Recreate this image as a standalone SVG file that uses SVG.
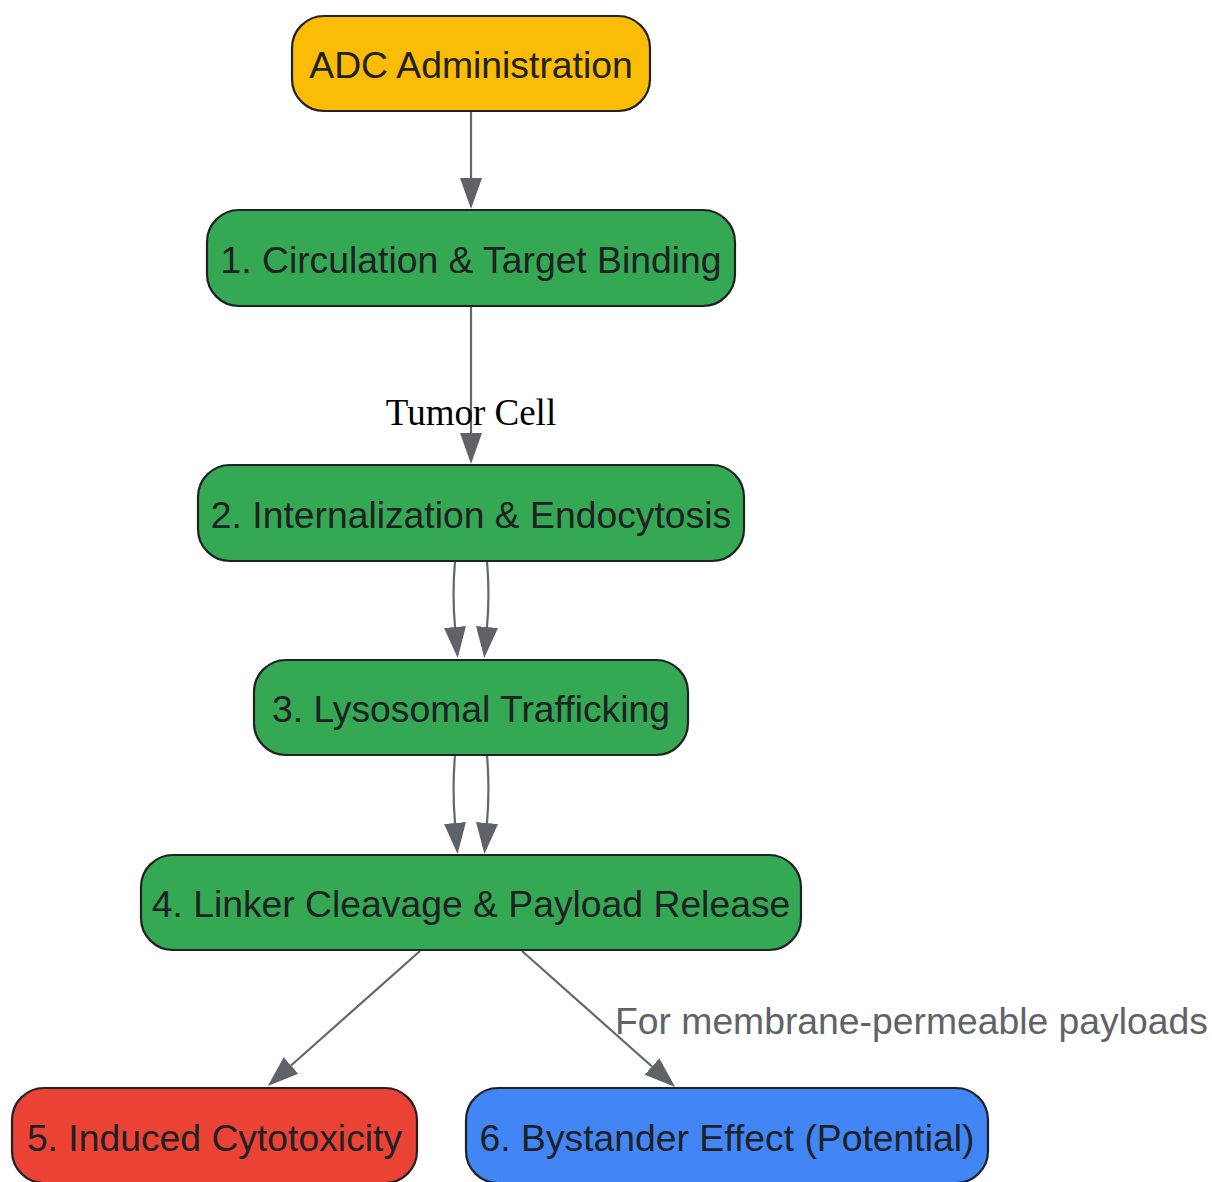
<svg xmlns="http://www.w3.org/2000/svg" width="1212" height="1182" viewBox="0 0 1212 1182">
<style>
.node rect{stroke:#202124;stroke-width:2.2}
.node text{font-family:"Liberation Sans",Arial,sans-serif;font-size:37.3px;fill:#202124;text-anchor:middle}
.edge{fill:none;stroke:#63666b;stroke-width:2.2}
.elabel{font-family:"Liberation Sans",Arial,sans-serif;font-size:37.3px;fill:#5f6368}
.tlabel{font-family:"Liberation Serif","Times New Roman",serif;font-size:37px;fill:#000;text-anchor:middle}
</style>
<defs>
<marker id="arrow" markerUnits="userSpaceOnUse" markerWidth="32" markerHeight="24" refX="0" refY="11" orient="auto" viewBox="0 0 32 22">
<path d="M0,0 L31,11 L0,22 z" fill="#5f6368"/>
</marker>
</defs>
<rect width="1212" height="1182" fill="#ffffff"/>
<g id="edges">
<path class="edge" d="M471,111 L471,178" marker-end="url(#arrow)"/>
<path class="edge" d="M471,306 L471,433" marker-end="url(#arrow)"/>
<path class="edge" d="M455,561 C452.5,590 453.5,610 455,627" marker-end="url(#arrow)"/>
<path class="edge" d="M487,561 C489.5,590 488.5,610 487,627" marker-end="url(#arrow)"/>
<path class="edge" d="M455,755 C452.5,785 453.5,805 455,823" marker-end="url(#arrow)"/>
<path class="edge" d="M487,755 C489.5,785 488.5,805 487,823" marker-end="url(#arrow)"/>
<path class="edge" d="M420,951 L291,1065.5" marker-end="url(#arrow)"/>
<path class="edge" d="M522,951 L652,1066.5" marker-end="url(#arrow)"/>
<text class="tlabel" x="471" y="425">Tumor Cell</text>
<text class="elabel" x="615" y="1034">For membrane-permeable payloads</text>
</g>
<g id="n0" class="node">
<rect x="292" y="16" width="358" height="95" rx="32" fill="#FBBC05"/>
<text x="471" y="78">ADC Administration</text>
</g>
<g id="n1" class="node">
<rect x="207" y="210" width="528" height="96" rx="32" fill="#34A853"/>
<text x="471" y="273">1. Circulation &amp; Target Binding</text>
</g>
<g id="n2" class="node">
<rect x="198" y="465" width="546" height="96" rx="32" fill="#34A853"/>
<text x="471" y="528">2. Internalization &amp; Endocytosis</text>
</g>
<g id="n3" class="node">
<rect x="254" y="660" width="434" height="95" rx="32" fill="#34A853"/>
<text x="471" y="722">3. Lysosomal Trafficking</text>
</g>
<g id="n4" class="node">
<rect x="141" y="855" width="660" height="95" rx="32" fill="#34A853"/>
<text x="471" y="917">4. Linker Cleavage &amp; Payload Release</text>
</g>
<g id="n5" class="node">
<rect x="12" y="1088" width="405" height="95" rx="32" fill="#EA4335"/>
<text x="214.5" y="1151">5. Induced Cytotoxicity</text>
</g>
<g id="n6" class="node">
<rect x="466" y="1088" width="522" height="95" rx="32" fill="#4285F4"/>
<text x="727" y="1151">6. Bystander Effect (Potential)</text>
</g>
</svg>
